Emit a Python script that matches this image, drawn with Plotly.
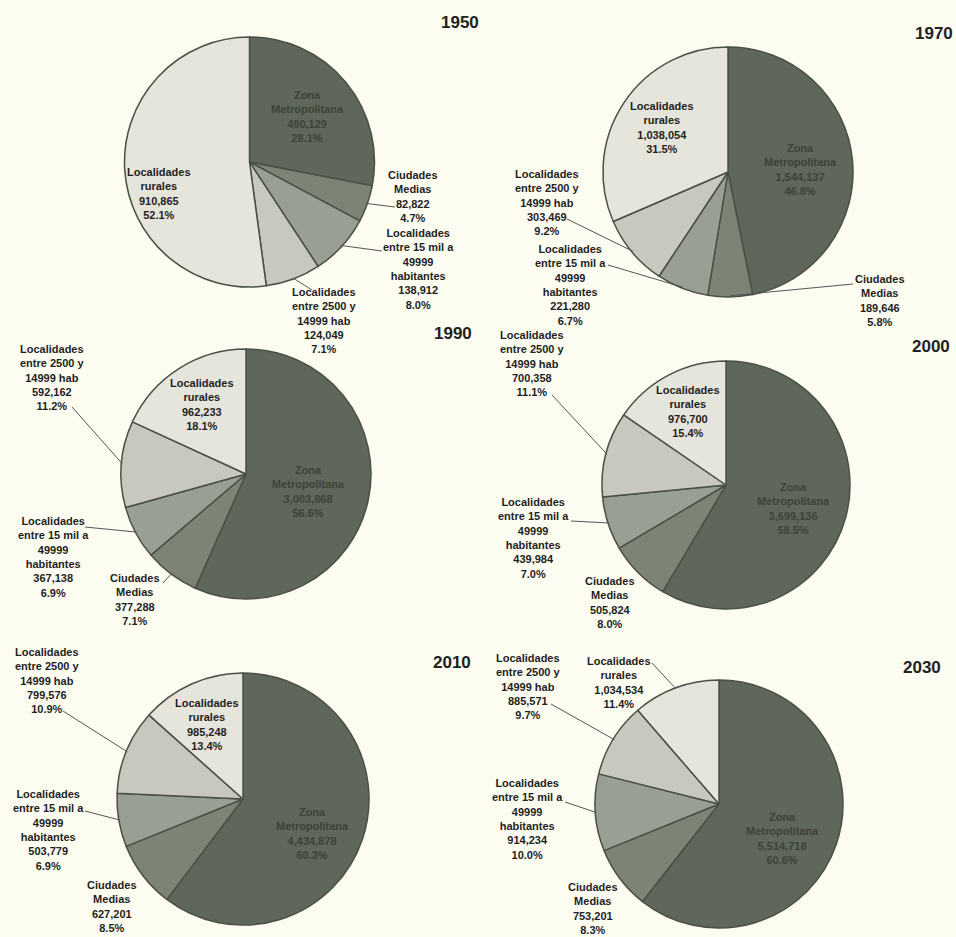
import math
import plotly.graph_objects as go

W, H = 956, 937

# ---------------- data ----------------
categories = [
    "Zona Metropolitana",
    "Ciudades Medias",
    "Localidades entre 15 mil a 49999 habitantes",
    "Localidades entre 2500 y 14999 hab",
    "Localidades rurales",
]
label_lines = [
    "Zona<br>Metropolitana",
    "Ciudades<br>Medias",
    "Localidades<br>entre 15 mil a<br>49999<br>habitantes",
    "Localidades<br>entre 2500 y<br>14999 hab",
    "Localidades<br>rurales",
]
years = ["1950", "1970", "1990", "2000", "2010", "2030"]
pop_1950 = [490129, 82822, 138912, 124049, 910865]
pop_1970 = [1544137, 189646, 221280, 303469, 1038054]
pop_1990 = [3003868, 377288, 367138, 592162, 962233]
pop_2000 = [3699136, 505824, 439984, 700358, 976700]
pop_2010 = [4434878, 627201, 503779, 799576, 985248]
pop_2030 = [5514718, 753201, 914234, 885571, 1034534]
values = [pop_1950, pop_1970, pop_1990, pop_2000, pop_2010, pop_2030]

# ---------------- styling / layout ----------------
colors = ["#5f665a", "#7d8476", "#999f92", "#c7c9be", "#e5e5db"]
bg = "#fdfcf1"
font_family = "Liberation Sans, Arial, sans-serif"

# pie centre (px), radius (px), title position (px)
pie_geom = {
    "1950": dict(c=(249.5, 162), r=125, title=(460, 23)),
    "1970": dict(c=(728, 172), r=125, title=(934, 33)),
    "1990": dict(c=(246, 474), r=125, title=(453, 334)),
    "2000": dict(c=(726, 485), r=124, title=(931, 346)),
    "2010": dict(c=(243, 799), r=126, title=(452, 662)),
    "2030": dict(c=(719, 804), r=124, title=(922, 667)),
}
# label positions per category: (text centre x, text centre y, leader end point or None)
label_pos = {
    "1950": [(307, 116.5, None), (413, 196, (395, 207)), (418, 269, (382, 251)),
             (324, 320, (312, 290)), (159, 193, None)],
    "1970": [(800, 169, None), (880, 301, (853, 284)), (570, 284.5, (608, 265)),
             (547, 203, (567, 219)), (662, 128, None)],
    "1990": [(308, 491, None), (135, 599.5, (163, 583)), (53, 557, (85, 527)),
             (52, 377, (72, 407)), (202, 404, None)],
    "2000": [(793, 508, None), (610, 602, None), (533, 537.5, (571, 521)),
             (532, 363, (552, 395)), (688, 411, None)],
    "2010": [(312, 833, None), (112, 906, None), (48, 830, (85, 811)),
             (47, 680, (63, 711)), (207, 724, None)],
    "2030": [(782, 838.5, None), (593, 908, None), (527, 819, (565, 802)),
             (528, 686, (551, 704)), (619, 682, (652, 663))],
}


def px(x, y):
    return x / W, 1 - y / H


fig = go.Figure()
annotations = []
shapes = []

for yr, vals in zip(years, values):
    g = pie_geom[yr]
    cx, cy = g["c"]
    r = g["r"]
    x0, y1 = px(cx - r, cy - r)
    x1, y0 = px(cx + r, cy + r)
    fig.add_trace(go.Pie(
        labels=categories, values=vals, sort=False, direction="clockwise",
        rotation=0, textinfo="none", showlegend=False,
        marker=dict(colors=colors, line=dict(color="#4b5046", width=1.5)),
        domain=dict(x=[x0, x1], y=[y0, y1]),
        hovertemplate="%{label}<br>%{value:,}<br>%{percent:.1%}<extra>" + yr + "</extra>",
    ))
    total = sum(vals)
    cum = 0.0
    for i, v in enumerate(vals):
        mid = (cum + v / 2) / total * 2 * math.pi
        cum += v
        pct = v / total * 100
        text = f"{label_lines[i]}<br>{v:,}<br>{pct:.1f}%"
        tx, ty, lend = label_pos[yr][i]
        col = "#3e4239" if i == 0 else "#1f1f1f"
        ax_, ay_ = px(tx, ty)
        annotations.append(dict(
            x=ax_, y=ay_, xref="paper", yref="paper", text=text, showarrow=False,
            xanchor="center", yanchor="middle", align="center",
            font=dict(family=font_family, size=11, color=col, weight="bold"),
        ))
        if lend is not None:
            ex = cx + r * 0.99 * math.sin(mid)
            ey = cy - r * 0.99 * math.cos(mid)
            sx0, sy0 = px(ex, ey)
            sx1, sy1 = px(*lend)
            shapes.append(dict(type="line", xref="paper", yref="paper",
                               x0=sx0, y0=sy0, x1=sx1, y1=sy1,
                               line=dict(color="#555", width=1)))
    tx, ty = g["title"]
    ax_, ay_ = px(tx, ty)
    annotations.append(dict(
        x=ax_, y=ay_, xref="paper", yref="paper", text=yr, showarrow=False,
        xanchor="center", yanchor="middle",
        font=dict(family=font_family, size=17, color="#222", weight="bold"),
    ))

fig.update_layout(
    width=W, height=H, margin=dict(l=0, r=0, t=0, b=0),
    paper_bgcolor=bg, plot_bgcolor=bg,
    annotations=annotations, shapes=shapes,
)
fig.write_html(
    "out.html",
    config={"displayModeBar": False},
    post_script="document.body.style.margin='0';document.body.style.overflow='hidden';"
                "document.body.style.background='" + bg + "';",
)
